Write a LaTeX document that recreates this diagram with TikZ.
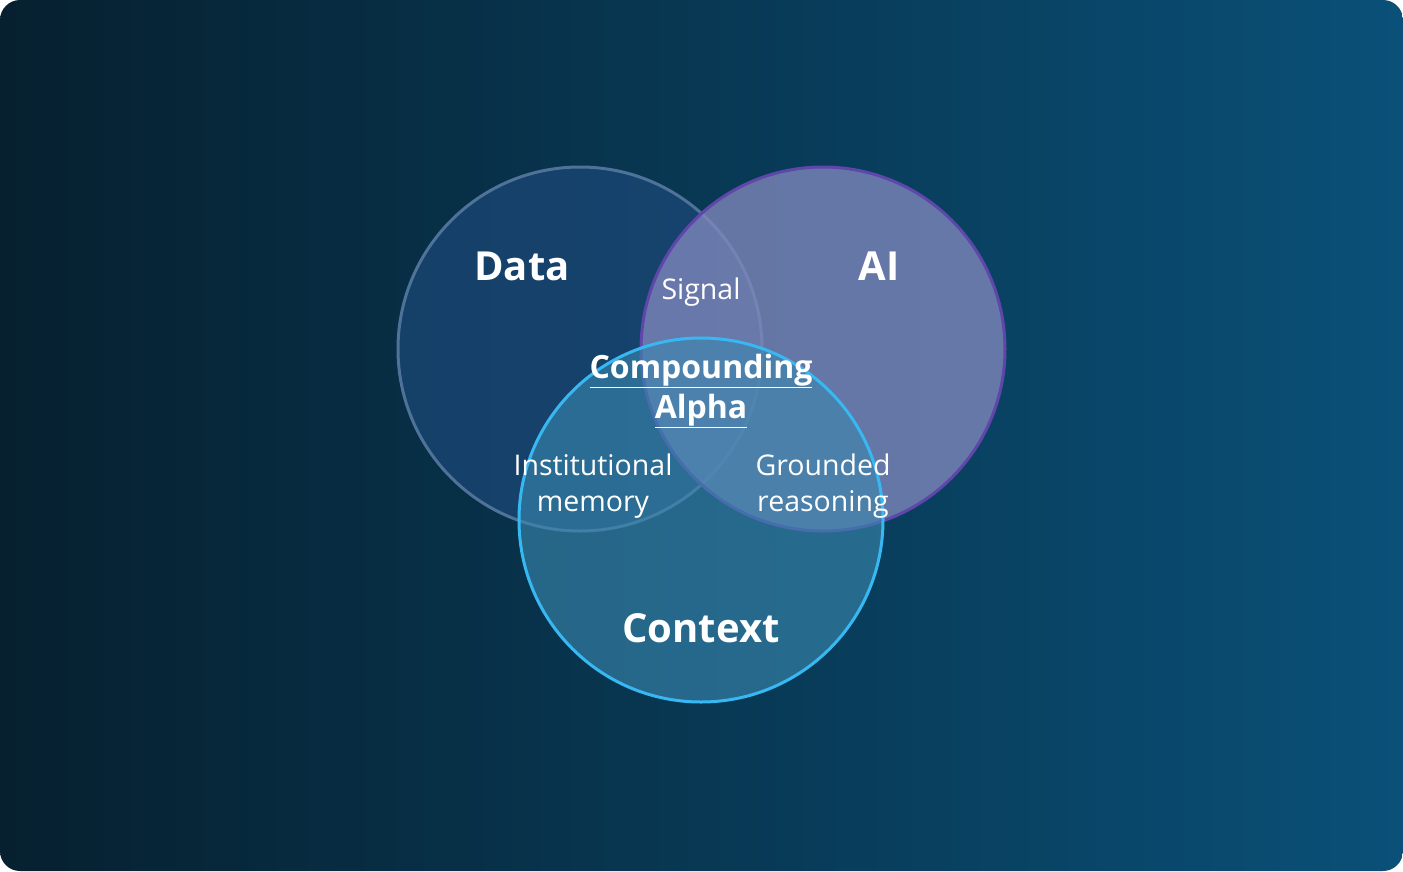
\documentclass[tikz,border=0pt]{standalone}
\usepackage{fontspec}
\setmainfont{Open Sans}
\definecolor{bgl}{HTML}{06202F}
\definecolor{bgr}{HTML}{0A5078}
\definecolor{datafill}{HTML}{1D4A7C}
\definecolor{dataline}{HTML}{4F7299}
\definecolor{aifill}{HTML}{8088BC}
\definecolor{ailine}{HTML}{5E46AA}
\definecolor{ctxfill}{HTML}{3A87AE}
\definecolor{ctxline}{HTML}{38B8F2}
\begin{document}
\begin{tikzpicture}[x=1pt,y=-1pt,
  lbl/.style={text=white,align=center,font=\fontsize{28.5}{36}\selectfont},
  big/.style={text=white,font=\bfseries\fontsize{40}{44}\selectfont},
  mid/.style={text=white,align=center,font=\bfseries\fontsize{32}{40}\selectfont}]
\useasboundingbox (0,0) rectangle (1403,871);
\shade[left color=bgl,right color=bgr,rounded corners=20pt] (0,0) rectangle (1403,871);
\path[fill=datafill,fill opacity=0.65,draw=dataline,line width=3pt,draw opacity=1] (580,349) circle (182);
\path[fill=aifill,fill opacity=0.78,draw=ailine,line width=3pt] (823,349) circle (182);
\path[fill=ctxfill,fill opacity=0.62,draw=ctxline,line width=3pt] (701,520) circle (182);
\node[big] (data) at (522,266) {Data};
\node[big] (ai) at (879,266) {AI};
\node[big] (ctx) at (701,628) {Context};
\node[lbl] (sig) at (701,292) {Signal};
\node[mid] (ca) at (701,391) {\underline{Compounding}\\\underline{Alpha}};
\node[lbl] (im) at (593,486) {Institutional\\memory};
\node[lbl] (gr) at (823,486) {Grounded\\reasoning};
\end{tikzpicture}
\end{document}
